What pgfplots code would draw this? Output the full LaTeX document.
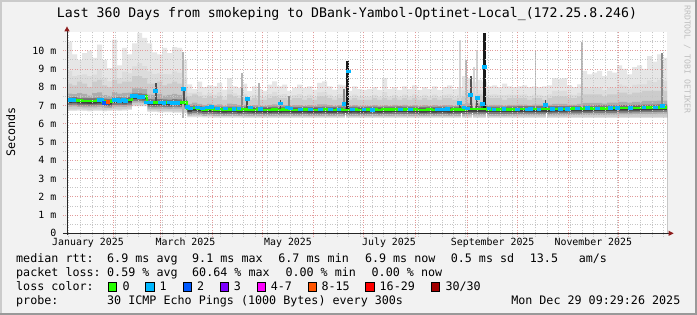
\documentclass[border=0pt]{standalone}
\usepackage{fontspec}
\setmainfont{DejaVu Sans Mono}
\usepackage{pgfplots}
\pgfplotsset{compat=1.18}
\usepackage{pgfplotstable}
\definecolor{bgc}{HTML}{F2F2F2}
\definecolor{shadea}{HTML}{CBCBCB}
\definecolor{shadeb}{HTML}{999999}
\definecolor{majgrid}{HTML}{E29A9A}
\definecolor{mingrid}{HTML}{C6C6C6}
\definecolor{arrowc}{HTML}{8E1E1E}
\definecolor{b1}{HTML}{E6E6E6}
\definecolor{b2}{HTML}{DCDCDC}
\definecolor{b3}{HTML}{CCCCCC}
\definecolor{b4}{HTML}{ADADAD}
\definecolor{b5}{HTML}{7A7A7A}
\definecolor{b6}{HTML}{3E3E3E}
\definecolor{s2}{HTML}{D4D4D4}
\definecolor{s3}{HTML}{B4B4B4}
\definecolor{s4}{HTML}{8A8A8A}
\definecolor{s5}{HTML}{505050}
\definecolor{s6}{HTML}{1A1A1A}
\definecolor{lc0}{HTML}{26FF00}
\definecolor{lc1}{HTML}{00B8FF}
\definecolor{lc2}{HTML}{0059FF}
\definecolor{lc3}{HTML}{7E00FF}
\definecolor{lc4}{HTML}{FF00FF}
\definecolor{lc8}{HTML}{FF5500}
\definecolor{lc16}{HTML}{FF0000}
\definecolor{lc30}{HTML}{A10000}
\newcommand{\spike}[5]{\addplot[fill=#5, draw=none, forget plot] coordinates {(#1,#3) (#2,#3) (#2,#4) (#1,#4)};}
\newcommand{\lgfont}{\fontsize{11.7bp}{14bp}\selectfont}
\newcommand{\tkfont}{\fontsize{9.9bp}{12bp}\selectfont}

\pgfplotstableread{
x bot med mhi top
0 6.70 7.28 8.2 10.5
3 6.70 7.30 8.1 9.8
6 6.72 7.26 8.3 9.5
9 6.70 7.25 8.2 9.87
12 6.68 7.24 8.0 10.0
15 6.70 7.25 8.3 9.6
18 6.70 7.27 8.4 10.33
21 6.68 7.22 8.1 9.5
24 6.70 7.20 8.0 9.05
27 6.72 7.28 8.4 10.6
30 6.70 7.28 8.2 9.2
33 6.72 7.27 8.3 10.15
36 6.75 7.30 8.3 9.8
39 6.95 7.50 8.6 10.4
42 6.95 7.50 8.6 10.97
45 6.95 7.48 8.5 10.7
48 6.65 7.18 8.2 10.4
51 6.65 7.17 8.2 9.9
54 6.62 7.18 8.3 9.8
57 6.62 7.17 8.1 10.15
60 6.62 7.16 8.2 9.87
63 6.60 7.18 8.3 10.2
66 6.60 7.17 8.2 10.15
69 6.55 7.15 8.0 9.5
72 6.35 6.80 7.5 8.15
75 6.35 6.85 7.6 7.9
78 6.35 6.82 7.5 8.3
81 6.33 6.78 7.4 8.0
84 6.33 6.80 7.5 8.1
87 6.32 6.78 7.4 8.05
90 6.32 6.77 7.5 8.23
93 6.32 6.76 7.3 7.87
96 6.32 6.77 7.6 8.5
99 6.32 6.78 7.5 8.05
102 6.32 6.76 7.4 7.96
105 6.30 6.78 7.4 8.2
108 6.30 6.77 7.3 7.78
111 6.30 6.76 7.4 8.05
114 6.30 6.77 7.3 7.9
117 6.30 6.76 7.3 7.8
120 6.30 6.76 7.4 8.14
123 6.30 6.77 7.5 8.32
126 6.30 6.76 7.4 8.05
129 6.30 6.77 7.4 8.14
132 6.30 6.77 7.3 7.8
135 6.30 6.76 7.4 7.96
138 6.30 6.76 7.4 8.14
141 6.30 6.77 7.3 7.96
144 6.30 6.76 7.4 8.05
147 6.30 6.76 7.3 7.87
150 6.30 6.76 7.5 8.23
153 6.30 6.77 7.5 8.32
156 6.30 6.76 7.4 8.05
159 6.30 6.76 7.3 7.87
162 6.30 6.77 7.4 8.14
165 6.30 6.76 7.4 8.1
168 6.30 6.76 7.3 7.8
171 6.30 6.77 7.4 8.05
174 6.30 6.76 7.3 7.9
177 6.30 6.76 7.3 7.85
180 6.30 6.77 7.3 7.9
183 6.30 6.77 7.4 8.0
186 6.30 6.76 7.3 7.85
189 6.30 6.77 7.4 8.5
192 6.30 6.77 7.3 7.9
195 6.30 6.78 7.4 8.0
198 6.30 6.79 7.3 7.85
201 6.30 6.78 7.4 8.05
204 6.30 6.77 7.3 7.9
207 6.30 6.77 7.4 8.1
210 6.30 6.76 7.3 7.85
213 6.30 6.76 7.4 8.0
216 6.30 6.77 7.3 7.9
219 6.30 6.76 7.4 8.05
222 6.30 6.77 7.3 7.85
225 6.30 6.77 7.4 8.0
228 6.30 6.76 7.4 8.1
231 6.30 6.77 7.3 7.9
234 6.30 6.77 7.4 8.0
237 6.30 6.78 7.5 8.6
240 6.30 6.80 7.6 8.5
243 6.30 6.80 7.6 8.3
246 6.30 6.80 7.6 8.4
249 6.30 6.80 7.5 8.3
252 6.30 6.78 7.4 8.05
255 6.30 6.78 7.4 8.1
258 6.30 6.78 7.4 8.0
261 6.30 6.78 7.3 8.2
264 6.30 6.79 7.4 8.05
267 6.30 6.79 7.4 8.0
270 6.30 6.80 7.4 8.05
273 6.30 6.80 7.4 8.1
276 6.30 6.80 7.3 8.0
279 6.30 6.80 7.4 8.05
282 6.30 6.80 7.4 8.0
285 6.30 6.80 7.3 8.05
288 6.30 6.80 7.4 8.1
291 6.30 6.81 7.5 8.5
294 6.30 6.81 7.5 8.45
297 6.30 6.81 7.5 8.5
300 6.30 6.82 7.4 8.1
303 6.30 6.82 7.4 8.0
306 6.30 6.82 7.5 8.15
309 6.30 6.83 7.6 8.9
312 6.30 6.83 7.6 8.7
315 6.30 6.84 7.6 8.8
318 6.30 6.84 7.6 8.9
321 6.30 6.84 7.5 8.6
324 6.30 6.85 7.6 8.9
327 6.30 6.85 7.6 8.8
330 6.30 6.86 7.7 9.2
333 6.30 6.86 7.7 9.0
336 6.30 6.86 7.6 8.7
339 6.30 6.87 7.7 9.1
342 6.30 6.87 7.7 9.2
345 6.30 6.88 7.8 9.0
348 6.30 6.88 7.8 9.7
351 6.30 6.89 7.8 9.4
354 6.30 6.90 7.8 9.8
357 6.30 6.90 7.8 9.6
360 6.30 6.90 7.8 9.6
}\smoke

\pgfplotstableread{
x y
2 7.30
3.5 7.30
19 7.32
20.5 7.30
28 7.30
30 7.31
31.5 7.28
33.5 7.30
35 7.28
39 7.52
41 7.52
43 7.50
45 7.48
47.5 7.18
50 7.18
53 7.80
56 7.18
58 7.17
61 7.18
63 7.17
66 7.15
69.5 7.90
72 6.95
74 6.85
78 6.90
81 6.85
84 6.90
86.5 6.95
90 6.85
95 6.85
100 6.82
103 6.85
108 7.37
110 6.90
116 6.82
128 7.12
132 6.90
134 6.85
140 6.80
146 6.80
152 6.80
158 6.80
163 6.80
166 7.10
168.5 8.87
171 6.80
178 6.80
183 6.78
200 6.80
206 6.80
222 6.80
225 6.80
228 6.82
235.5 7.17
238 6.90
240 6.85
242 7.59
246 7.41
249 7.10
250.5 9.10
253 6.85
256 6.80
262 6.82
270 6.80
276 6.80
278 6.82
283 6.80
287 7.05
291 6.82
296 6.82
300 6.82
306 6.85
312 6.86
318 6.85
326 6.86
330 6.86
338 6.88
346 6.90
353 6.90
357 6.97
}\bluept

\begin{document}
\begin{tikzpicture}
\fill[bgc] (0,0) rectangle (697bp,315bp);
\fill[shadea] (0,0) rectangle (2bp,315bp);
\fill[shadea] (0,313bp) rectangle (697bp,315bp);
\fill[shadeb] (695bp,0) rectangle (697bp,315bp);
\fill[shadeb] (0,0) rectangle (697bp,2bp);

\begin{axis}[
  at={(67bp,81.7bp)}, anchor=south west,
  scale only axis, width=600bp, height=200.9bp,
  xmin=0, xmax=360, ymin=0, ymax=11,
  axis on top,
  axis background/.style={fill=white},
  axis x line*=bottom, axis y line*=left,
  axis line style={draw=none},
  grid=both,
  major grid style={color=majgrid, dash pattern=on 1bp off 1.5bp, line width=0.8bp},
  minor grid style={color=mingrid, dash pattern=on 1bp off 1.5bp, line width=0.8bp},
  tick align=outside,
  major tick length=4bp, minor tick length=4bp,
  major tick style={color=majgrid, dash pattern=on 1bp off 1.5bp, line width=0.8bp},
  minor tick style={color=mingrid, dash pattern=on 1bp off 1.5bp, line width=0.8bp},
  xtick={28,56,87,117,148,178,209,240,270,301,331},
  xticklabels={},
  minor xtick={1,8,...,358},
  extra x ticks={12.6,71.1,132.6,193.2,255.4,315.8},
  extra x tick labels={January 2025,March 2025,May 2025,July 2025,September 2025,November 2025},
  extra x tick style={grid=none, major tick length=0pt},
  xticklabel style={font=\tkfont, anchor=base, inner sep=0pt, yshift=-12.5bp},
  ytick={0,1,2,3,4,5,6,7,8,9,10},
  yticklabels={0,1 m,2 m,3 m,4 m,5 m,6 m,7 m,8 m,9 m,10 m},
  minor ytick={0.5,1.5,2.5,3.5,4.5,5.5,6.5,7.5,8.5,9.5,10.5},
  yticklabel style={font=\tkfont, anchor=east, inner sep=0pt, xshift=-6.5bp},
  clip=true,
  every axis plot/.append style={forget plot},
]
% smoke bands, painted from the outermost upper edge inwards, then lower edges outwards
\addplot[fill=b1, draw=none, const plot mark left] table[x=x,y=top]{\smoke} \closedcycle;
\addplot[fill=b2, draw=none, const plot mark left] table[x=x,y expr=\thisrow{mhi}+0.3*(\thisrow{top}-\thisrow{mhi})]{\smoke} \closedcycle;
\addplot[fill=b3, draw=none, const plot mark left] table[x=x,y=mhi]{\smoke} \closedcycle;
\addplot[fill=b4, draw=none, const plot mark left] table[x=x,y expr=\thisrow{med}+0.4*(\thisrow{mhi}-\thisrow{med})]{\smoke} \closedcycle;
\addplot[fill=b5, draw=none, const plot mark left] table[x=x,y expr=\thisrow{med}+0.16]{\smoke} \closedcycle;
\addplot[fill=b6, draw=none, const plot mark left] table[x=x,y expr=\thisrow{med}+0.06]{\smoke} \closedcycle;
\addplot[fill=b5, draw=none, const plot mark left] table[x=x,y expr=\thisrow{med}-0.15]{\smoke} \closedcycle;
\addplot[fill=b4, draw=none, const plot mark left] table[x=x,y expr=\thisrow{med}-0.25]{\smoke} \closedcycle;
\addplot[fill=b3, draw=none, const plot mark left] table[x=x,y expr=\thisrow{med}-0.35]{\smoke} \closedcycle;
\addplot[fill=b2, draw=none, const plot mark left] table[x=x,y expr=\thisrow{bot}+0.08]{\smoke} \closedcycle;
\addplot[fill=b1, draw=none, const plot mark left] table[x=x,y expr=\thisrow{bot}+0.03]{\smoke} \closedcycle;
\addplot[fill=white, draw=none, const plot mark left] table[x=x,y=bot]{\smoke} \closedcycle;
% spikes
\spike{69}{70.2}{6.3}{9.9}{s3}
\spike{52.5}{53.7}{7.2}{8.25}{s5}
\spike{69.5}{70.5}{7.1}{8.0}{s5}
\spike{104.5}{105.7}{6.8}{8.78}{s3}
\spike{104.5}{105.7}{6.8}{7.95}{s4}
\spike{107.5}{108.7}{6.8}{7.45}{s5}
\spike{114.5}{115.5}{6.8}{8.23}{s3}
\spike{127.5}{128.5}{6.8}{7.3}{s5}
\spike{132.5}{133.5}{6.8}{7.5}{s4}
\spike{165.5}{166.5}{6.8}{7.9}{s4}
\spike{167.5}{169.3}{6.7}{9.42}{s6}
\spike{235}{236.2}{6.8}{10.6}{s2}
\spike{235}{236.2}{6.8}{7.2}{s5}
\spike{239}{240}{6.8}{9.5}{s3}
\spike{241.5}{242.7}{6.8}{8.6}{s5}
\spike{243.5}{244.5}{6.8}{9.13}{s2}
\spike{245.5}{246.7}{6.8}{10.05}{s2}
\spike{245.5}{246.7}{6.8}{7.41}{s5}
\spike{248.5}{249.5}{6.8}{7.2}{s5}
\spike{249.8}{251.4}{6.8}{10.97}{s6}
\spike{280.5}{281.5}{6.8}{10.05}{s3}
\spike{286.5}{287.5}{6.8}{7.3}{s5}
\spike{308.5}{309.5}{6.8}{10.5}{s3}
\spike{356.5}{357.7}{6.9}{9.87}{s4}
\spike{70.5}{71.2}{6.2}{6.6}{white}
\spike{166.8}{167.4}{6.2}{6.6}{white}
\spike{236.3}{237}{6.25}{6.6}{white}
\spike{242.8}{243.4}{6.25}{6.6}{white}
\spike{251.6}{252.2}{6.25}{6.6}{white}
\spike{287.6}{288.2}{6.25}{6.6}{white}
% median
\addplot[const plot mark left, draw=lc0, line width=2.6bp] table[x=x,y=med]{\smoke};
\addplot[only marks, mark=square*, mark size=1.4bp, color=lc1, mark options={xscale=1.4}] table[x=x,y=y]{\bluept};
\addplot[only marks, mark=square*, mark size=1.4bp, color=lc2, mark options={xscale=1.4}] coordinates {(22,7.17) (23.2,7.17)};
\addplot[only marks, mark=square*, mark size=1.4bp, color=lc8, mark options={xscale=1.4}] coordinates {(24.4,7.22)};
\end{axis}

% axes lines and arrows
\draw[color=black!85, line width=0.9bp] (63bp,81.7bp) -- (669bp,81.7bp);
\draw[color=black!85, line width=0.9bp] (67bp,80bp) -- (67bp,284bp);
\fill[arrowc] (64.3bp,283.5bp) -- (69.7bp,283.5bp) -- (67bp,288.6bp) -- cycle;
\fill[arrowc] (668.5bp,79bp) -- (668.5bp,84.4bp) -- (673.6bp,81.7bp) -- cycle;

% title, labels
\node[anchor=base, inner sep=0pt, font=\fontsize{13.2bp}{16bp}\selectfont] at (347bp,297.3bp) {Last 360 Days from smokeping to DBank-Yambol-Optinet-Local\_(172.25.8.246)};
\node[anchor=base, rotate=90, inner sep=0pt, font=\lgfont] at (15bp,183bp) {Seconds};
\node[anchor=base west, rotate=-90, inner sep=0pt, text=black!25, font=\fontsize{8.2bp}{10bp}\selectfont] at (684.5bp,310bp) {RRDTOOL / TOBI OETIKER};

% legend rows
\begin{scope}[every node/.style={anchor=base west, inner sep=0pt, font=\lgfont}]
\node at (16bp,52.7bp) {median rtt:};
\node at (107bp,52.7bp) {6.9 ms avg};
\node at (192bp,52.7bp) {9.1 ms max};
\node at (278.2bp,52.7bp) {6.7 ms min};
\node at (364.8bp,52.7bp) {6.9 ms now};
\node at (450.6bp,52.7bp) {0.5 ms sd};
\node at (529.7bp,52.7bp) {13.5};
\node at (578.6bp,52.7bp) {am/s};
\node at (16bp,38.7bp) {packet loss:};
\node at (107bp,38.7bp) {0.59 \% avg};
\node at (192bp,38.7bp) {60.64 \% max};
\node at (285.3bp,38.7bp) {0.00 \% min};
\node at (371.5bp,38.7bp) {0.00 \% now};
\node at (16bp,25bp) {loss color:};
\node at (122.5bp,25bp) {0};
\node at (159.5bp,25bp) {1};
\node at (196.8bp,25bp) {2};
\node at (233.7bp,25bp) {3};
\node at (270.6bp,25bp) {4-7};
\node at (321.3bp,25bp) {8-15};
\node at (379.5bp,25bp) {16-29};
\node at (445.3bp,25bp) {30/30};
\node at (16bp,10.7bp) {probe:};
\node at (107bp,10.7bp) {30 ICMP Echo Pings (1000 Bytes) every 300s};
\node[anchor=base east] at (680.5bp,10.7bp) {Mon Dec 29 09:29:26 2025};
\end{scope}
\begin{scope}[line width=0.8bp]
\filldraw[fill=lc0, draw=black] (108.4bp,24bp) rectangle ++(8.2bp,8.8bp);
\filldraw[fill=lc1, draw=black] (145.7bp,24bp) rectangle ++(8.2bp,8.8bp);
\filldraw[fill=lc2, draw=black] (183.1bp,24bp) rectangle ++(8.2bp,8.8bp);
\filldraw[fill=lc3, draw=black] (220.4bp,24bp) rectangle ++(8.2bp,8.8bp);
\filldraw[fill=lc4, draw=black] (257.3bp,24bp) rectangle ++(8.2bp,8.8bp);
\filldraw[fill=lc8, draw=black] (308bp,24bp) rectangle ++(8.2bp,8.8bp);
\filldraw[fill=lc16, draw=black] (365.7bp,24bp) rectangle ++(8.2bp,8.8bp);
\filldraw[fill=lc30, draw=black] (431.5bp,24bp) rectangle ++(8.2bp,8.8bp);
\end{scope}
\pgfresetboundingbox
\useasboundingbox (0,0) rectangle (697bp,315bp);
\end{tikzpicture}
\end{document}
